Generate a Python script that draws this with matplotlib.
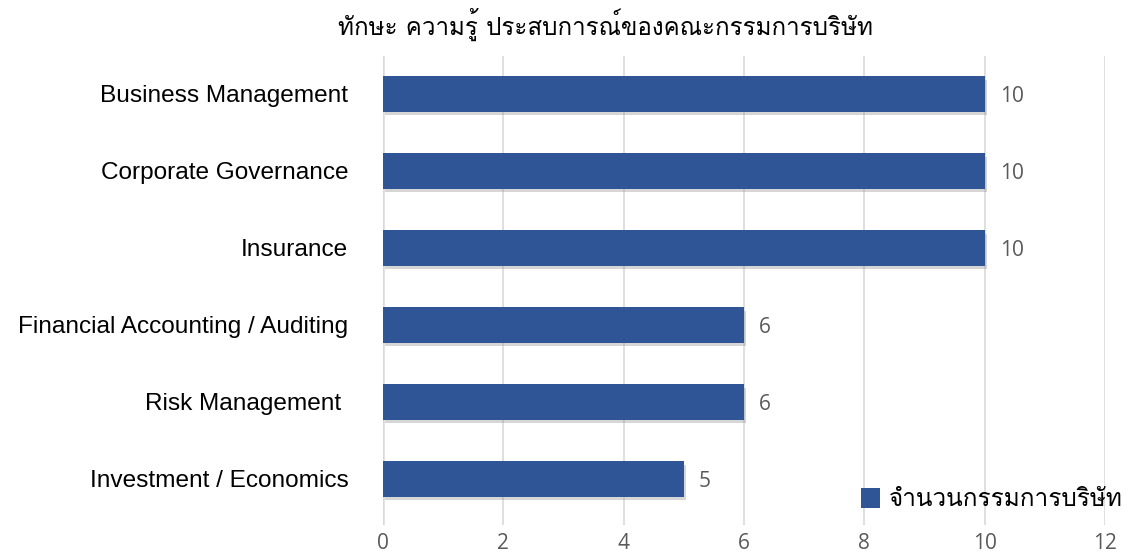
import matplotlib
matplotlib.use("Agg")
import matplotlib.pyplot as plt
from matplotlib import font_manager as fm
from matplotlib.ft2font import FT2Font
import matplotlib.patheffects as pe

categories = ["Business Management", "Corporate Governance", "Insurance",
              "Financial Accounting / Auditing", "Risk Management ", "Investment / Economics"]
values = [10, 10, 10, 6, 6, 5]
xticks = [0, 2, 4, 6, 8, 10, 12]
title = "ทักษะ ความรู้ ประสบการณ์ของคณะกรรมการบริษัท"
legend_label = "จำนวนกรรมการบริษัท"

# find a font with Thai glyphs
thai_font = None
for f in fm.fontManager.ttflist:
    try:
        cm = FT2Font(f.fname).get_charmap()
        if 0x0E17 in cm and 0x0E31 in cm:
            thai_font = f.name
            break
    except Exception:
        pass
thai_family = [thai_font, "DejaVu Sans"] if thai_font else ["DejaVu Sans"]

bar_color = "#2F5597"
grid_color = "#D9D9D9"
text_gray = "#595959"

W, H = 1128, 558
fig = plt.figure(figsize=(W/100, H/100), dpi=100)
top_px, bot_px = 55.5, 525
ax = fig.add_axes([383/W, 1 - bot_px/H, (1105-383)/W, (bot_px-top_px)/H])

y = list(range(len(categories)))
bars = ax.barh(y, values, height=0.46, color=bar_color, zorder=3,
               path_effects=[pe.SimplePatchShadow(offset=(1.5, -2.5), shadow_rgbFace="#8c8c8c", alpha=0.35),
                             pe.Normal()])
ax.set_ylim(5.6, -0.5)
ax.set_xlim(0, 12)
ax.set_xticks(xticks)
ax.set_xticklabels([str(t) for t in xticks], fontsize=15, color=text_gray, family=["Open Sans"])
ax.tick_params(axis="x", length=0, pad=6)
ax.set_yticks(y)
ax.set_yticklabels(categories, fontsize=17.6, color="black", family=["Liberation Sans"])
ax.tick_params(axis="y", length=0, pad=25)
ax.grid(axis="x", color=grid_color, linewidth=1.2, zorder=0)
for s in ax.spines.values():
    s.set_visible(False)
ax.axvline(0, color=grid_color, linewidth=1.8, zorder=1)

for yi, v in zip(y, values):
    ax.text(v + 0.25, yi + 0.03, str(v), va="center", ha="left", fontsize=15,
            color=text_gray, family=["Open Sans"])

fig.text(0.5 + 41/W, 1 - 24/H, title, ha="center", va="center", fontsize=17.4,
         color="black", family=thai_family)

leg = ax.legend([bars], [legend_label], loc="lower right",
                bbox_to_anchor=(1128/W, 1 - 516/H), bbox_transform=fig.transFigure,
                frameon=False, prop={"family": thai_family, "size": 17.5},
                handlelength=0.75, handleheight=0.9, handletextpad=0.4,
                borderaxespad=0, borderpad=0.2)
for h in leg.legend_handles:
    h.set_path_effects([pe.Normal()])

fig.savefig("out.png", dpi=100, facecolor="white")
